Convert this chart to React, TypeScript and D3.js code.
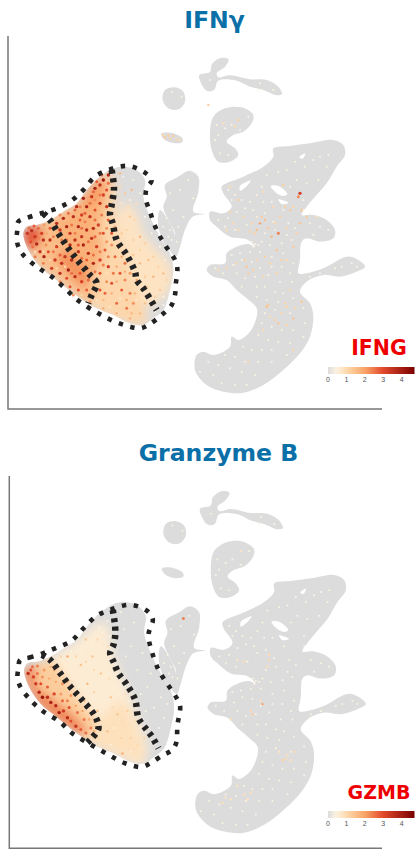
import * as d3 from "d3";

// embedding coordinates of the cell clusters, shared by both panels
type Pt = [number, number];
type Spot = [number, number, number];

const mainCluster: Pt[] = [[370,265],[420,258],[480,250],[550,240],[580,255],[585,285],[560,320],[530,370],[495,410],[470,440],[455,465],[490,465],[530,480],[555,510],[550,535],[510,545],[470,535],[455,545],[450,600],[445,640],[470,640],[520,625],[590,590],[625,600],[645,620],[620,635],[570,650],[520,645],[470,665],[450,695],[480,730],[490,770],[480,830],[450,880],[400,930],[340,975],[280,998],[220,995],[170,975],[135,930],[140,885],[160,875],[190,885],[240,860],[245,830],[265,840],[300,815],[320,770],[320,745],[290,715],[260,690],[230,660],[190,650],[170,630],[180,615],[225,610],[230,580],[260,560],[295,552],[315,560],[290,538],[240,530],[200,500],[180,480],[180,455],[220,460],[245,440],[220,400],[215,380],[280,350],[340,320],[370,290]];
const topCluster: Pt[] = [[212,-6],[236,-2],[225,20],[200,40],[205,52],[240,46],[300,58],[350,60],[385,80],[396,102],[380,106],[340,90],[300,80],[260,62],[205,62],[192,90],[170,92],[150,62],[148,45],[180,36],[186,12]];
const roundCluster: Pt[] = [[45,90],[75,82],[100,95],[105,125],[85,148],[55,145],[38,120]];
const cCluster: Pt[] = [[190,170],[225,145],[275,142],[310,165],[305,190],[280,215],[250,225],[230,245],[255,265],[265,285],[240,305],[205,305],[185,270],[180,220]];
const smallCluster: Pt[] = [[33,222],[60,218],[95,232],[98,245],[80,250],[45,240]];
const midCluster: Pt[] = [[45,375],[85,350],[118,332],[145,350],[145,395],[130,455],[162,462],[128,470],[105,510],[90,560],[78,590],[60,570],[75,520],[60,490],[40,440],[50,410]];
const bridgeCluster: Pt[] = [[30,450],[60,490],[75,530],[72,575],[50,560],[25,500]];
const blobCluster: Pt[] = [[-80,320],[-40,330],[-15,360],[-20,410],[0,470],[30,530],[60,580],[70,630],[60,690],[40,750],[10,775],[-20,795],[-60,790],[-110,765],[-170,740],[-230,700],[-280,660],[-330,620],[-365,570],[-380,520],[-370,500],[-340,495],[-300,480],[-260,455],[-220,430],[-190,390],[-150,350],[-110,325]];
const clusters = [mainCluster, topCluster, roundCluster, cCluster, smallCluster, midCluster, bridgeCluster, blobCluster];

// gaps inside the main cluster
const gaps: Pt[][] = [
  [[362,378],[385,378],[412,402],[400,408],[378,398]],
  [[270,378],[302,362],[288,380],[270,392]],
  [[385,418],[415,428],[395,432]],
  [[448,292],[466,280],[458,296]],
];

// dashed outlines, one set per panel
const ifngOutline: Pt[] = [[-395,485],[-365,472],[-320,458],[-280,445],[-240,425],[-200,390],[-165,350],[-120,328],[-65,318],[-15,338],[5,360],[-10,385],[-13,415],[0,455],[20,510],[45,555],[75,600],[82,625],[77,675],[75,705],[65,735],[35,765],[-5,795],[-30,805],[-60,800],[-105,785],[-155,760],[-215,722],[-255,685],[-295,650],[-340,620],[-380,585],[-395,560],[-400,535],[-398,510]];
const ifngDividerA: Pt[] = [[-320,460],[-300,480],[-275,520],[-245,565],[-210,610],[-180,645],[-160,670],[-175,705],[-185,730]];
const ifngDividerB: Pt[] = [[-115,330],[-108,385],[-115,435],[-120,465],[-112,490],[-100,540],[-70,585],[-45,635],[-40,660],[-20,685],[5,725],[20,750]];
const gzmbOutline: Pt[] = [[-392,490],[-364,483],[-322,470],[-287,456],[-237,433],[-202,397],[-162,360],[-117,341],[-62,328],[-12,345],[6,370],[-7,416],[3,465],[23,519],[38,544],[78,603],[88,627],[80,681],[76,735],[63,756],[38,769],[-2,794],[-27,805],[-77,794],[-127,769],[-187,735],[-237,705],[-274,671],[-322,642],[-362,607],[-392,568],[-400,541],[-397,514]];
const gzmbDividerA: Pt[] = [[-327,475],[-302,490],[-272,529],[-242,568],[-207,607],[-167,656],[-157,691],[-177,720],[-190,733]];
const gzmbDividerB: Pt[] = [[-114,343],[-107,392],[-107,421],[-112,446],[-122,470],[-112,495],[-97,529],[-72,563],[-47,607],[-37,661],[-12,696],[3,715],[23,750]];

// mean expression zones inside the blob: [level, polygon]
const ifngZones: [number, Pt[]][] = [
  [0.8, [[-70,430],[-40,460],[-20,520],[30,580],[62,620],[62,680],[30,720],[-20,740],[-60,690],[-100,600],[-110,500]]],
  [1.05, [[-115,340],[-100,500],[-60,620],[-20,740],[-10,790],[-60,790],[-170,740],[-190,700],[-160,670],[-250,570],[-300,480],[-220,430],[-190,390],[-150,350]]],
  [1.5, [[-380,520],[-340,495],[-300,480],[-260,540],[-210,610],[-160,670],[-190,730],[-230,700],[-280,660],[-330,620],[-365,570]]],
  [1.75, [[-290,485],[-230,440],[-190,400],[-150,360],[-125,350],[-130,420],[-150,500],[-140,580],[-170,640],[-215,610],[-260,550]]],
  [2.2, [[-250,570],[-210,610],[-180,650],[-200,680],[-245,640],[-280,590]]],
  [2.1, [[-190,395],[-150,355],[-135,350],[-160,420],[-200,440]]],
  [2.9, [[-380,520],[-350,498],[-325,510],[-335,550],[-360,570]]],
];
const gzmbZones: [number, Pt[]][] = [
  [0.6, [[-140,380],[-112,470],[-80,560],[-40,650],[-10,760],[-27,800],[-100,775],[-175,725],[-160,680],[-210,610],[-300,490],[-240,450]]],
  [0.85, [[-160,680],[-90,610],[-40,690],[-20,785],[-100,770],[-180,730]]],
  [1.25, [[-375,520],[-340,505],[-302,490],[-210,610],[-165,670],[-190,730],[-230,700],[-285,665],[-330,625],[-365,575]]],
  [2.4, [[-378,520],[-345,510],[-345,560],[-295,605],[-230,655],[-190,705],[-220,705],[-280,665],[-330,625],[-365,575]]],
];

// individually visible cells: [x, y, expression]
const ifngBlobSpots: Spot[] = [
  [-368,520,3.4],[-355,512,3.6],[-345,530,3.4],[-358,545,3],[-340,552,3.8],[-325,520,3.2],[-330,575,3.5],[-318,590,3.9],[-300,540,3.6],[-305,575,3],[-285,600,3.4],[-295,625,3.2],[-270,640,3.6],[-250,655,3],[-240,680,2.9],[-265,610,3.6],[-245,630,4],[-225,650,3.6],[-205,665,3.2],[-215,690,3],[-190,690,2.8],[-280,560,3.2],[-255,590,3.5],[-320,540,3.6],
  [-280,490,3.6],[-260,475,3.8],[-270,510,3.4],[-250,500,3.9],[-230,470,3.6],[-240,520,3.4],[-215,500,3.8],[-225,540,3.6],[-205,465,3.3],[-190,440,3.9],[-200,415,4],[-175,410,3.5],[-165,385,3.9],[-150,375,3.6],[-140,360,4.2],[-125,345,3.9],[-180,470,3.6],[-165,450,3],[-150,430,3.5],[-140,405,3.2],[-130,440,3.4],[-190,510,3.7],[-175,535,3.5],[-155,495,3.2],[-140,520,3],[-200,555,3.9],[-215,575,3.6],[-185,580,3.8],[-160,560,3.3],[-170,610,3.8],[-190,625,3.6],[-150,600,3.2],[-135,570,2.9],[-125,480,2.8],[-115,520,2.9],[-150,640,3],[-125,620,3.3],[-105,590,2.7],[-90,640,2.9],[-115,670,3],[-85,690,2.8],[-135,700,2.7],[-100,730,2.6],[-70,745,2.5],[-150,690,2.9],[-60,700,2.4],[-75,610,2.6],[-235,600,3.8],[-205,530,3.5],[-240,555,3.7],[-170,505,3.7],[-130,390,3],[-220,440,3.8],
  [-90,340,1.6],[-75,400,1.3],[-55,390,1.6],[-60,470,1.4],[-30,530,1.7],[-5,600,1.5],[10,650,1.7],[-10,680,1.5],[40,640,1.5],[-30,610,1.6],[30,690,1.3],
  [-345,590,2.5],[-320,610,2.4],[-270,665,2.4],[-230,705,2.2],[-180,725,2.1],[-140,745,1.9],[-100,760,1.8],[-60,775,1.8],[-50,730,2.2],[-40,660,2],[-75,660,2.3],[-110,640,2.5],
  [-362,505,2.6],[-348,498,2.8],[-335,505,2.6],[-318,495,2.1],[-300,505,2.8],[-290,530,2.4],[-310,520,2],[-335,535,2.4],[-352,560,2.6],[-312,555,2.2],[-290,575,2.5],[-270,585,2.8],[-320,575,0.9],[-345,575,0.9],[-300,600,1],[-280,625,1],[-255,620,1],[-235,640,2.6],[-210,640,2.9],[-185,660,2.7],[-205,705,1.1],[-175,715,1.1],
  [-270,465,2.3],[-245,460,2.6],[-250,480,1.6],[-225,450,2.7],[-210,440,2.4],[-210,480,2.8],[-235,495,2.5],[-195,485,2.4],[-195,460,2.8],[-180,430,2.6],[-165,420,2.2],[-150,405,2.5],[-170,395,2.7],[-160,365,2.8],[-145,345,2.7],[-125,370,2.6],[-120,410,2.2],[-125,460,2.1],[-145,465,2.5],[-165,480,2.6],[-130,505,2.2],[-150,520,2.5],[-165,530,2.7],[-185,545,2.6],[-205,505,2.6],[-225,520,2.4],[-250,540,2.7],[-265,540,2.4],[-215,555,2.9],[-190,600,2.8],[-205,595,2.6],[-170,585,2.6],[-150,575,2.4],[-130,545,2.1],[-115,555,2.2],[-125,590,2.4],[-140,615,2.4],[-165,635,2.5],
  [-105,500,1.9],[-95,555,1.8],[-85,590,2],[-100,620,2],[-75,635,1.8],[-60,640,2.1],[-100,665,1.9],[-130,665,2.2],[-140,720,1.6],[-115,700,1.8],[-90,715,0.7],[-70,720,1.9],[-45,700,1.7],[-55,760,1.7],[-30,760,1.6],[-40,720,0.7],[-15,730,1.5],[-120,740,0.8],[-160,720,0.8],[-130,640,0.8],
  [-85,430,0.7],[-65,440,1],[-45,480,1],[-70,510,1.1],[-50,540,1.2],[-85,520,1.3],[-30,570,1.1],[-50,585,1.4],[-15,550,1.2],[10,590,1.2],[25,620,1.2],[5,625,0.7],[-15,650,1.3],[50,660,1.1],[25,665,0.7],[-5,705,1.2],[15,710,1.2],[40,710,0.45],
  [-80,350,0.45],[-50,360,0.45],[-30,400,0.45],[-60,420,0.45],[-40,430,0.9],[-15,470,0.45],[5,520,0.45],[-90,380,1],[30,560,0.45],[45,600,0.45],[40,735,0.45],[15,755,0.45],
];
const gzmbBlobSpots: Spot[] = [
  [-368,530,3.6],[-360,520,3],[-352,540,3.2],[-345,560,3.4],[-335,585,3.8],[-325,600,4.2],[-310,600,3.6],[-300,615,3.9],[-285,625,3.7],[-275,645,4],[-262,640,3.4],[-250,660,3.7],[-240,670,3],[-225,685,3.4],[-210,695,2.8],[-195,705,2.6],[-330,560,3],[-310,570,2.8],[-290,590,3.1],[-265,610,2.7],[-245,630,3],[-220,645,2.6],[-200,665,2.5],[-180,690,2.4],[-340,530,2.5],[-320,520,2.1],[-290,520,2],[-265,560,2.2],[-240,595,2.1],
  [-250,480,1.9],[-210,505,1.5],[-190,560,1.6],[-175,480,1.4],[-150,530,1.3],[-120,600,1.3],[-100,650,1.4],[-70,640,1.2],[-130,700,1.5],[-85,765,1.9],[-60,720,1.2],[-195,430,1.4],[-160,640,1.5],[-20,720,1.1],
  [-355,510,2.6],[-340,508,2.4],[-325,540,2.2],[-305,545,1.9],[-285,555,1.9],[-270,590,2.1],[-250,610,2.4],[-225,625,2],[-205,640,2],[-185,665,1.9],[-170,700,1.8],[-300,510,1.8],[-270,530,1.7],[-250,555,1.7],[-225,585,1.8],[-200,610,1.7],[-280,500,0.5],[-260,520,0.5],[-235,545,0.5],[-215,570,0.5],[-190,630,0.5],
  [-270,480,1.1],[-240,465,0.5],[-225,480,1.1],[-210,465,0.5],[-195,495,1.1],[-175,450,0.5],[-160,430,1],[-170,520,1],[-150,480,0.5],[-130,450,0.9],[-145,410,0.5],[-125,420,0.5],[-155,395,0.45],[-130,375,0.45],[-120,500,0.5],[-125,545,1],[-150,570,0.5],[-170,585,1.1],[-140,610,0.5],[-115,630,1],[-95,590,0.5],[-85,670,1],[-110,690,0.5],[-150,670,1.1],[-160,720,1.1],[-120,740,0.5],[-90,720,1.1],[-60,760,0.5],[-40,740,1],[-30,690,0.5],[-45,670,1],[-65,610,0.5],[-75,590,0.9],
  [-80,400,0.45],[-60,450,0.45],[-40,520,0.45],[-10,570,0.45],[30,600,0.45],[40,660,0.45],[-15,640,0.45],[15,735,0.45],[-90,350,0.45],[-50,380,0.45],[-75,480,0.45],[-25,470,0.45],[0,530,0.45],[-30,590,0.45],[10,630,0.45],[-5,690,0.45],[25,690,0.45],[50,620,0.45],
];
// pale cells scattered through the grey clusters in both panels
const lowCells: Spot[] = [
  [235,390,0.45],[255,405,0.45],[245,420,0.45],[275,420,0.45],[300,425,0.45],[320,405,0.45],[335,380,0.45],[350,345,0.45],[385,335,0.45],[410,330,0.45],[435,305,0.45],[465,320,0.45],[490,300,0.45],[510,290,0.45],[535,285,0.45],[530,320,0.45],[505,360,0.45],[470,370,0.45],[440,360,0.45],[420,380,0.45],[460,420,0.45],[340,425,0.45],[365,425,0.45],[310,450,0.45],[285,445,0.45],[260,455,0.45],[235,475,0.45],[205,480,0.45],[225,500,0.45],[255,510,0.45],[290,495,0.45],[320,470,0.45],[345,460,0.45],[370,485,0.45],[400,450,0.45],[415,490,0.45],[435,505,0.45],[460,450,0.45],[480,490,0.45],[510,500,0.45],[535,510,0.45],[490,525,0.45],[345,520,0.45],[375,510,0.45],[410,525,0.45],[335,545,0.45],[360,555,0.45],[395,550,0.45],[425,540,0.45],[305,545,0.45],[315,552,0.45],[310,560,0.45],[325,555,0.45],
  [245,585,0.45],[270,580,0.45],[300,575,0.45],[330,575,0.45],[365,590,0.45],[400,580,0.45],[430,610,0.45],[250,615,0.45],[275,600,0.45],[305,605,0.45],[330,625,0.45],[365,620,0.45],[395,620,0.45],[420,640,0.45],[195,625,0.45],[220,640,0.45],[260,640,0.45],[285,655,0.45],[315,650,0.45],[355,645,0.45],[390,665,0.45],[425,665,0.45],[275,680,0.45],[320,680,0.45],[345,680,0.45],[375,695,0.45],[400,700,0.45],[320,710,0.45],[350,720,0.45],[385,725,0.45],[430,715,0.45],[460,745,0.45],[345,760,0.45],[375,750,0.45],[420,760,0.45],[465,790,0.45],[335,790,0.45],[365,800,0.45],[395,810,0.45],[430,810,0.45],[460,830,0.45],[325,825,0.45],[355,840,0.45],[385,845,0.45],[420,850,0.45],[280,860,0.45],[305,870,0.45],[335,870,0.45],[365,870,0.45],[410,885,0.45],[225,885,0.45],[255,890,0.45],[285,905,0.45],[325,905,0.45],[365,905,0.45],[175,905,0.45],[205,915,0.45],[240,925,0.45],[275,935,0.45],[315,945,0.45],[150,935,0.45],[190,945,0.45],[215,970,0.45],[255,975,0.45],[290,975,0.45],[480,650,0.45],[510,640,0.45],[555,625,0.45],[575,620,0.45],[605,610,0.45],[620,620,0.45],
  [200,195,0.45],[225,205,0.45],[245,195,0.45],[270,210,0.45],[295,170,0.45],[210,280,0.45],[235,285,0.45],[195,240,0.45],[205,225,0.45],[65,95,0.45],[95,110,0.45],[180,60,0.45],[330,70,0.45],[325,90,0.45],[370,90,0.45],
  [60,400,0.45],[90,390,0.45],[115,360,0.45],[130,415,0.45],[70,450,0.45],[100,470,0.45],[85,500,0.45],[50,475,0.45],[60,510,0.45],[40,500,0.45],[65,540,0.45],[55,530,0.45],[80,545,0.45],
];
const ifngMainSpots: Spot[] = [
  [240,380,1],[265,420,1.2],[340,395,1],[400,375,1.2],[450,400,3.2],[445,410,2.3],[430,440,1.1],[470,470,1.3],[500,470,0.9],[390,470,1.2],[330,490,2],[345,480,1.5],[365,530,1.7],[385,520,2.4],[320,510,1.5],[300,515,1.2],[280,470,1],[250,490,1],[420,450,1.3],[450,490,1.4],[440,520,1.1],[370,440,1],
  [305,490,1.1],[315,520,1.2],[335,470,1.3],[355,505,1.4],[375,490,1.1],[405,440,1.2],[455,450,1.3],[240,455,1.1],[230,510,1],[265,510,1],[410,505,1.1],
  [290,620,1.4],[295,640,1.2],[260,610,1],[320,600,1],[345,590,1.2],[380,570,1.4],[410,600,1],[430,560,1.3],[205,630,1],[340,650,1],[380,640,1.1],[420,690,1],[455,725,1.4],[350,740,1.5],[410,740,1.2],[385,790,1.4],[430,775,1.5],[395,760,1.1],[360,770,1],[430,870,1],[295,905,1],[340,810,1],
  [285,600,1.1],[230,625,1],[310,630,1.2],[360,610,1.1],[395,600,1.2],[355,735,1.3],[405,730,1.1],[435,745,1.1],[375,780,1.2],[410,795,1.1],
  [265,180,1.2],[60,235,1.2],[45,232,1.3],[80,238,1.1],[70,228,1.2],[55,226,1.2],[40,226,1],[90,240,1],[255,200,1],[220,190,0.9],[175,135,1.2],
];
const gzmbMainSpots: Spot[] = [
  [355,490,1],[260,490,0.8],[280,495,1],[350,510,0.9],[355,475,1],
  [335,620,2],[305,650,1.2],[240,665,0.9],[300,640,1],[330,610,0.9],
  [395,785,1.2],[410,770,0.9],[430,760,1],[385,760,0.8],[300,880,1],[280,885,0.9],[240,900,0.8],[215,910,0.9],[260,860,0.8],[405,780,1],[420,785,0.9],[290,900,0.8],[225,895,0.8],
  [270,170,0.8],[98,368,2.4],
];

const legendTicks = [0, 1, 2, 3, 4];
const legendMax = 4.7;
const colorLevels = [0, 0.45, 1.1, 2, 3, legendMax];
const colorRamp = ["#dcdcdc", "#fdf3e2", "#fdd5a6", "#f9a468", "#e2492c", "#7a0000"];

const color = d3.scaleLinear<string>().domain(colorLevels).range(colorRamp).clamp(true);
const outlineLine = d3.line().curve(d3.curveCatmullRomClosed.alpha(0.5));
const openLine = d3.line().curve(d3.curveCatmullRom.alpha(0.5));

function Panel({ id, title, titleX, gene, geneSize, top, bottom, xRange, axis, titleY, geneY, barY, outline, dividers, zones, spots }: any) {
  const x = d3.scaleLinear().domain([-426, 696]).range(xRange);
  const y = d3.scaleLinear().domain([-72, 1047]).range([top, bottom]);
  const project = (pts: Pt[]) => pts.map((p) => [x(p[0]), y(p[1])] as Pt);
  const bar = d3.scaleLinear().domain([0, legendMax]).range([328, 414.5]);
  const stops = d3.ticks(0, legendMax, 24).concat(legendMax);
  return (
    <g>
      <text x={titleX} y={titleY} textAnchor="middle" fontFamily="DejaVu Sans" fontWeight="bold" fontSize={23.6} fill="#0b6fa8">{title}</text>
      <path d={`M${axis.x},${axis.top}V${axis.bottom}H${axis.right}`} fill="none" stroke="#777" strokeWidth={1.5} />
      <defs>
        <clipPath id={`${id}-blob`}><path d={outlineLine(project(blobCluster))!} /></clipPath>
        <filter id={`${id}-soft`} x="-10%" y="-10%" width="120%" height="120%"><feGaussianBlur stdDeviation={5} /></filter>
        <filter id={`${id}-fine`}><feGaussianBlur stdDeviation={0.45} /></filter>
        <linearGradient id={`${id}-bar`}>
          {stops.map((s: number) => <stop key={s} offset={s / legendMax} stopColor={color(s)} />)}
        </linearGradient>
      </defs>
      <g filter={`url(#${id}-fine)`}>
        {clusters.map((c, i) => <path key={i} d={outlineLine(project(c))!} fill={color(0)} />)}
        {gaps.map((g, i) => <path key={i} d={outlineLine(project(g))!} fill="#fff" />)}
      </g>
      <g clipPath={`url(#${id}-blob)`}>
        <g filter={`url(#${id}-soft)`}>
          {zones.map(([level, pts]: [number, Pt[]], i: number) => <path key={i} d={outlineLine(project(pts))!} fill={color(level)} />)}
        </g>
      </g>
      <g filter={`url(#${id}-fine)`}>
        {spots.map((s: Spot, i: number) => (
          <circle key={i} cx={x(s[0])} cy={y(s[1])} r={s[2] > 3 ? 1.7 : s[2] > 2 ? 1.5 : s[2] < 0.6 ? 1 : 1.2} fill={color(s[2])} />
        ))}
      </g>
      <path d={outlineLine(project(outline))!} fill="none" stroke="#222" strokeWidth={4.6} strokeDasharray="4.4 7.6" />
      {dividers.map((d: Pt[], i: number) => (
        <path key={i} d={openLine(project(d))!} fill="none" stroke="#222" strokeWidth={6.5} strokeDasharray="4 4.4" />
      ))}
      <text x={379} y={geneY} textAnchor="middle" fontFamily="DejaVu Sans" fontWeight="bold" fontSize={geneSize} fill="#ee0000">{gene}</text>
      <rect x={bar(0)} y={barY} width={bar(legendMax) - bar(0)} height={7} fill={`url(#${id}-bar)`} />
      {legendTicks.map((t) => (
        <text key={t} x={bar(t)} y={barY + 15} textAnchor="middle" fontFamily="Liberation Sans" fontSize={7} fill="#555">{t}</text>
      ))}
    </g>
  );
}

export default function App() {
  return (
    <svg width={419} height={858} viewBox="0 0 419 858" style={{ position: "absolute", left: 0, top: 0, display: "block" }}>
      <rect width={419} height={858} fill="#fff" />
      <Panel id="ifng" title="IFNγ" titleX={214.5} gene="IFNG" geneSize={20.5} top={36} bottom={409} xRange={[8, 382]}
        axis={{ x: 8, top: 36, bottom: 409, right: 382 }} titleY={28} geneY={355} barY={367}
        outline={ifngOutline} dividers={[ifngDividerA, ifngDividerB]} zones={ifngZones}
        spots={[...ifngBlobSpots, ...lowCells, ...ifngMainSpots]} />
      <Panel id="gzmb" title="Granzyme B" titleX={218.5} gene="GZMB" geneSize={19} top={468.8} bottom={849.3} xRange={[8.8, 382.8]}
        axis={{ x: 9.3, top: 476, bottom: 848.3, right: 382 }} titleY={460.5} geneY={799} barY={811}
        outline={gzmbOutline} dividers={[gzmbDividerA, gzmbDividerB]} zones={gzmbZones}
        spots={[...gzmbBlobSpots, ...lowCells, ...gzmbMainSpots]} />
    </svg>
  );
}
